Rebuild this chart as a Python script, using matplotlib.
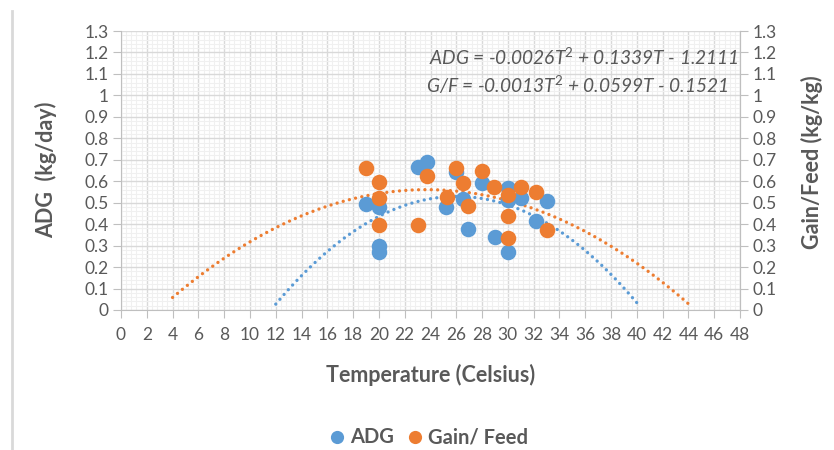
import numpy as np
import matplotlib
matplotlib.use("Agg")
import matplotlib.pyplot as plt
from matplotlib.ticker import MultipleLocator
from matplotlib.lines import Line2D

# ---- data ----
adg_T = [19.0, 20.0, 20.0, 20.0, 23.0, 23.7, 25.2, 26.0, 26.5, 26.9, 28.0, 29.0, 30.0, 30.0, 30.0, 31.0, 32.2, 33.0]
adg_y = [0.495, 0.48, 0.30, 0.268, 0.665, 0.69, 0.48, 0.645, 0.516, 0.376, 0.592, 0.342, 0.57, 0.513, 0.268, 0.52, 0.415, 0.51]
gf_T = [19.0, 20.0, 20.0, 20.0, 23.0, 23.7, 25.3, 26.0, 26.5, 26.9, 28.0, 28.9, 30.0, 30.0, 30.0, 31.0, 32.2, 33.0]
gf_y = [0.662, 0.597, 0.522, 0.395, 0.395, 0.626, 0.527, 0.662, 0.592, 0.485, 0.646, 0.575, 0.535, 0.438, 0.335, 0.575, 0.552, 0.375]
# trendline ranges (Excel forecast extents)
adg_trend_range = (12, 40)
gf_trend_range = (4, 44)
eq_adg = "ADG = -0.0026T$^2$ + 0.1339T - 1.2111"
eq_gf = "G/F = -0.0013T$^2$ + 0.0599T - 0.1521"
series_names = ["ADG", "Gain/ Feed"]
x_ticks = list(range(0, 49, 2))
y_ticks = [round(0.1 * i, 1) for i in range(14)]

BLUE = "#5B9BD5"
ORANGE = "#ED7D31"
GRAY = "#595959"

plt.rcParams['font.family'] = ['Lato', 'DejaVu Sans']
plt.rcParams['mathtext.fontset'] = 'custom'
plt.rcParams['mathtext.rm'] = 'Lato'
plt.rcParams['mathtext.it'] = 'Lato:italic'

fig = plt.figure(figsize=(8.34, 4.50), dpi=100)
ax = fig.add_axes([121/834, 1-310/450, (740-121)/834, (310-31)/450])
ax.set_xlim(0, 48)
ax.set_ylim(0, 1.3)

ax.xaxis.set_major_locator(MultipleLocator(2))
ax.xaxis.set_minor_locator(MultipleLocator(0.4))
ax.yaxis.set_major_locator(MultipleLocator(0.1))
ax.yaxis.set_minor_locator(MultipleLocator(0.02))
ax.grid(which='major', color='#D9D9D9', linewidth=1.0)
ax.grid(which='minor', color='#F0F0F0', linewidth=0.8)
ax.set_axisbelow(True)

ax.spines['top'].set_visible(False)
for s in ['left', 'bottom', 'right']:
    ax.spines[s].set_color('#BFBFBF')

ax.set_xticks(x_ticks)
ax.set_xticklabels([str(t) for t in x_ticks])
ax.set_yticks(y_ticks)
ax.set_yticklabels([("%g" % t) for t in y_ticks])
ax.tick_params(which='major', length=6, color='#BFBFBF', labelcolor=GRAY, labelsize=12.5, pad=3)
ax.tick_params(which='minor', length=0)
ax.tick_params(axis='x', pad=6)

# trendlines (quadratic least squares like Excel)
def trend(T, y, rng):
    c = np.polyfit(T, y, 2)
    xs = np.linspace(rng[0], rng[1], 400)
    ys = np.polyval(c, xs)
    m = ys >= 0
    return xs[m], ys[m]

dots = (0, (0.01, 1.9))
xs, ys = trend(adg_T, adg_y, adg_trend_range)
ax.plot(xs, ys, color=BLUE, lw=2.4, linestyle=dots, dash_capstyle='round', zorder=2)
xs, ys = trend(gf_T, gf_y, gf_trend_range)
ax.plot(xs, ys, color=ORANGE, lw=2.4, linestyle=dots, dash_capstyle='round', zorder=2)

ax.scatter(adg_T, adg_y, s=125, color=BLUE, zorder=3, linewidths=0)
ax.scatter(gf_T, gf_y, s=125, color=ORANGE, zorder=4, linewidths=0)

ax2 = ax.twinx()
ax2.set_ylim(0, 1.3)
ax2.set_yticks(y_ticks)
ax2.set_yticklabels([("%g" % t) for t in y_ticks])
ax2.tick_params(length=6, color='#BFBFBF', labelcolor=GRAY, labelsize=12.5, pad=3)
for s in ['top', 'left', 'bottom']:
    ax2.spines[s].set_visible(False)
ax2.spines['right'].set_color('#BFBFBF')

fig.text(431/834, 1-375/450, "Temperature (Celsius)", fontsize=15.5, fontweight='bold',
         color=GRAY, ha='center', va='center')
fig.text(46/834, 1-170/450, "ADG  (kg/day)", rotation=90, fontsize=15.5, fontweight='bold',
         color=GRAY, ha='center', va='center')
fig.text(812/834, 1-162/450, "Gain/Feed (kg/kg)", rotation=90, fontsize=15.5, fontweight='bold',
         color=GRAY, ha='center', va='center')

fig.text(739/834, 1-57/450, eq_adg, fontsize=13.8, fontstyle='italic', color=GRAY, ha='right', va='center')
fig.text(729/834, 1-85/450, eq_gf, fontsize=13.8, fontstyle='italic', color=GRAY, ha='right', va='center')

# legend (manual placement)
ly = 1 - 437/450
for cx, tx, col, name in [(337, 350, BLUE, series_names[0]), (415, 428, ORANGE, series_names[1])]:
    fig.add_artist(Line2D([cx/834], [ly], marker='o', ls='', color=col, markersize=9.5,
                          markeredgewidth=0, transform=fig.transFigure))
    fig.text(tx/834, ly, name, fontsize=14.5, fontweight='bold',
             color=GRAY, ha='left', va='center')

fig.add_artist(Line2D([12/834, 12/834], [0, 1-11/450], color='#D9D9D9', lw=2, transform=fig.transFigure))

fig.savefig("out.png", dpi=100)
